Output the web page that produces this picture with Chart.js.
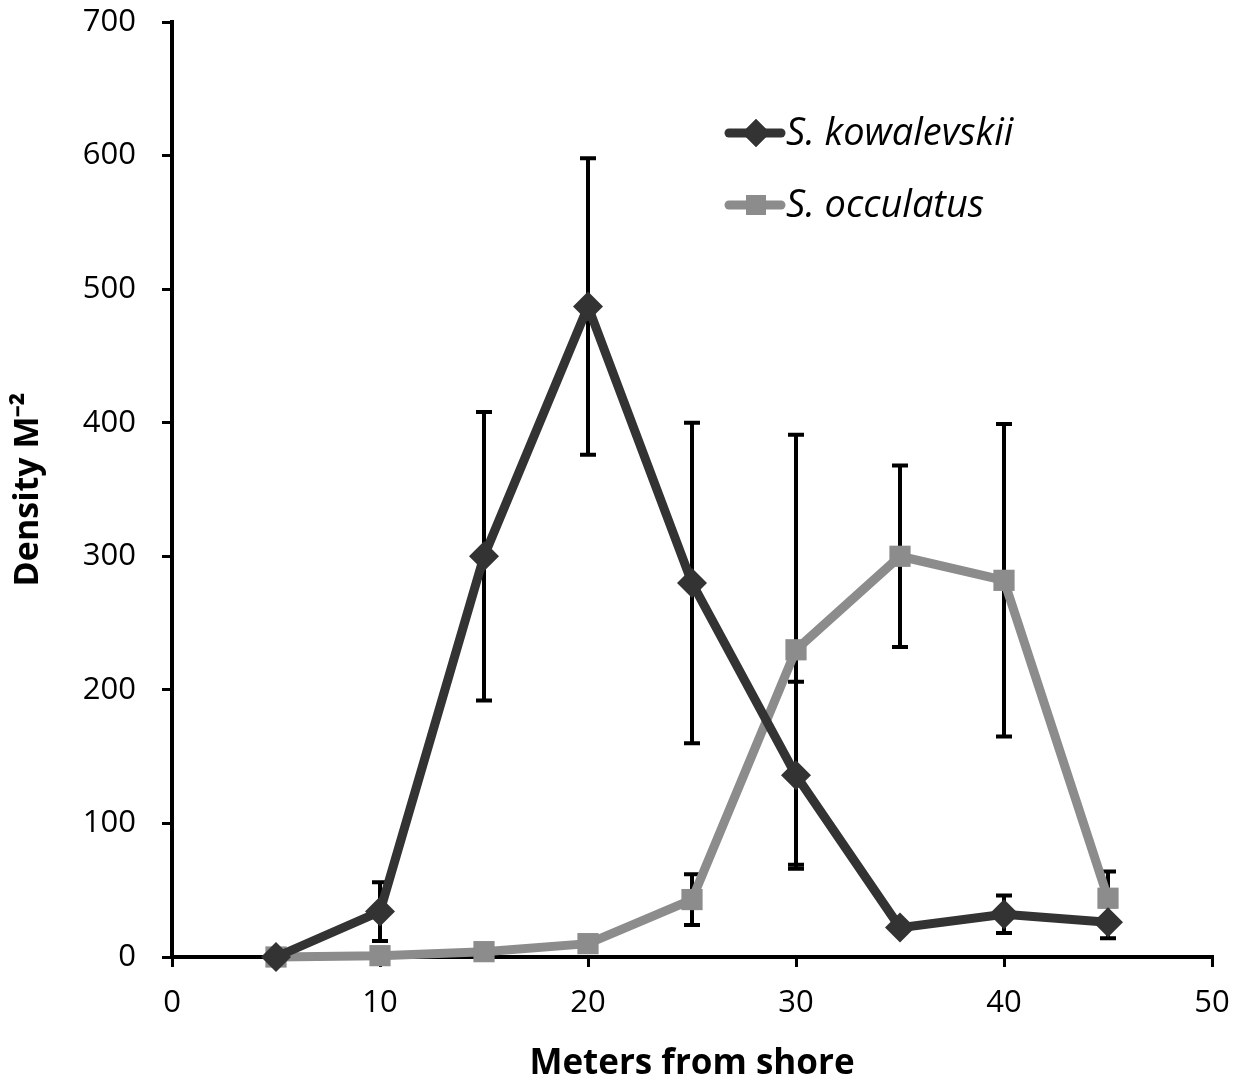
<!DOCTYPE html>
<html>
<head>
<meta charset="utf-8">
<script src="https://cdn.jsdelivr.net/npm/chart.js@4.4.0/dist/chart.umd.min.js"></script>
<style>
  html, body { margin: 0; padding: 0; background: #fff; }
  #wrap { width: 1244px; height: 1082px; }
</style>
</head>
<body>
<div id="wrap"><canvas id="c" width="1244" height="1082"></canvas></div>
<script>
// distance from shore (m)
const meters = [5, 10, 15, 20, 25, 30, 35, 40, 45];

// S. kowalevskii density and error
const kowalevskii = [0, 34, 300, 487, 280, 136, 22, 32, 26];
const kowalevskiiErr = [0, 22, 108, 111, 120, 70, 0, 14, 12];

// S. occulatus density and error
const occulatus = [0, 1, 4, 10, 43, 230, 300, 282, 44];
const occulatusErr = [0, 0, 0, 0, 19, 161, 68, 117, 20];

const xTicks = [0, 10, 20, 30, 40, 50];
const yTicks = [0, 100, 200, 300, 400, 500, 600, 700];

const FONT = "'Open Sans', 'Liberation Sans', sans-serif";

// draws the vertical error bars under the lines
const errorBars = {
  id: 'errorBars',
  beforeDatasetsDraw(chart) {
    const ctx = chart.ctx;
    const x = chart.scales.x, y = chart.scales.y;
    const sets = [[kowalevskii, kowalevskiiErr], [occulatus, occulatusErr]];
    ctx.save();
    ctx.strokeStyle = '#000';
    ctx.lineWidth = 4;
    sets.forEach(([vals, errs]) => {
      vals.forEach((v, i) => {
        if (!errs[i]) return;
        const px = x.getPixelForValue(meters[i]);
        const top = y.getPixelForValue(v + errs[i]);
        const bot = y.getPixelForValue(Math.max(0, v - errs[i]));
        ctx.beginPath();
        ctx.moveTo(px, top); ctx.lineTo(px, bot);
        ctx.moveTo(px - 8, top); ctx.lineTo(px + 8, top);
        ctx.moveTo(px - 8, bot); ctx.lineTo(px + 8, bot);
        ctx.stroke();
      });
    });
    ctx.restore();
  }
};

// legend placed inside the plot, like the original
const insideLegend = {
  id: 'insideLegend',
  afterDraw(chart) {
    const ctx = chart.ctx;
    const items = [
      { label: 'S. kowalevskii', color: '#333333', style: 'rectRot', y: 133 },
      { label: 'S. occulatus', color: '#8c8c8c', style: 'rect', y: 205 }
    ];
    ctx.save();
    items.forEach(it => {
      ctx.strokeStyle = it.color;
      ctx.lineWidth = 9;
      ctx.lineCap = 'round';
      ctx.beginPath();
      ctx.moveTo(729, it.y); ctx.lineTo(781, it.y);
      ctx.stroke();
      ctx.fillStyle = it.color;
      Chart.helpers.drawPoint(ctx, { pointStyle: it.style, radius: 14, rotation: 0, borderWidth: 0 }, 756, it.y);
      ctx.fill();
      ctx.fillStyle = '#000';
      ctx.font = 'italic 38px ' + FONT;
      ctx.textBaseline = 'middle';
      ctx.fillText(it.label, 786, it.y + 1);
    });
    ctx.restore();
  }
};

new Chart(document.getElementById('c'), {
  type: 'line',
  data: {
    datasets: [
      {
        label: 'S. kowalevskii',
        data: meters.map((m, i) => ({ x: m, y: kowalevskii[i] })),
        borderColor: '#333333',
        backgroundColor: '#333333',
        borderWidth: 9,
        pointStyle: 'rectRot',
        pointRadius: 15,
        pointBorderWidth: 0,
        tension: 0,
        clip: false
      },
      {
        label: 'S. occulatus',
        data: meters.map((m, i) => ({ x: m, y: occulatus[i] })),
        borderColor: '#8c8c8c',
        backgroundColor: '#8c8c8c',
        borderWidth: 9,
        pointStyle: 'rect',
        pointRadius: 15,
        pointBorderWidth: 0,
        tension: 0,
        clip: false
      }
    ]
  },
  options: {
    responsive: false,
    animation: false,
    layout: { padding: { top: 22, right: 32, left: 0, bottom: 0 } },
    plugins: {
      legend: { display: false },
      tooltip: { enabled: false }
    },
    scales: {
      x: {
        type: 'linear',
        min: 0, max: 50,
        afterBuildTicks: s => { s.ticks = xTicks.map(v => ({ value: v })); },
        afterFit: s => { s.height = 125; s.paddingLeft = 0; s.paddingRight = 0; },
        border: { color: '#000', width: 4 },
        grid: { drawOnChartArea: false, color: '#000', lineWidth: 3, tickLength: 10 },
        ticks: { color: '#000', font: { family: FONT, size: 31 }, padding: 18 },
        title: { display: true, text: 'Meters from shore', color: '#000', font: { family: FONT, size: 35, weight: 'bold', lineHeight: 1 }, padding: { top: 20, bottom: 0 } }
      },
      y: {
        min: 0, max: 700,
        afterBuildTicks: s => { s.ticks = yTicks.map(v => ({ value: v })); },
        afterFit: s => { s.width = 172; s.paddingTop = 0; s.paddingBottom = 0; },
        border: { color: '#000', width: 4 },
        grid: { drawOnChartArea: false, color: '#000', lineWidth: 3, tickLength: 10 },
        ticks: { color: '#000', font: { family: FONT, size: 31 }, padding: 26 },
        title: { display: true, text: 'Density M\u207B\u00B2', color: '#000', font: { family: FONT, size: 34, weight: 'bold' }, padding: { top: 8, bottom: 10 } }
      }
    }
  },
  plugins: [errorBars, insideLegend]
});
</script>
</body>
</html>
